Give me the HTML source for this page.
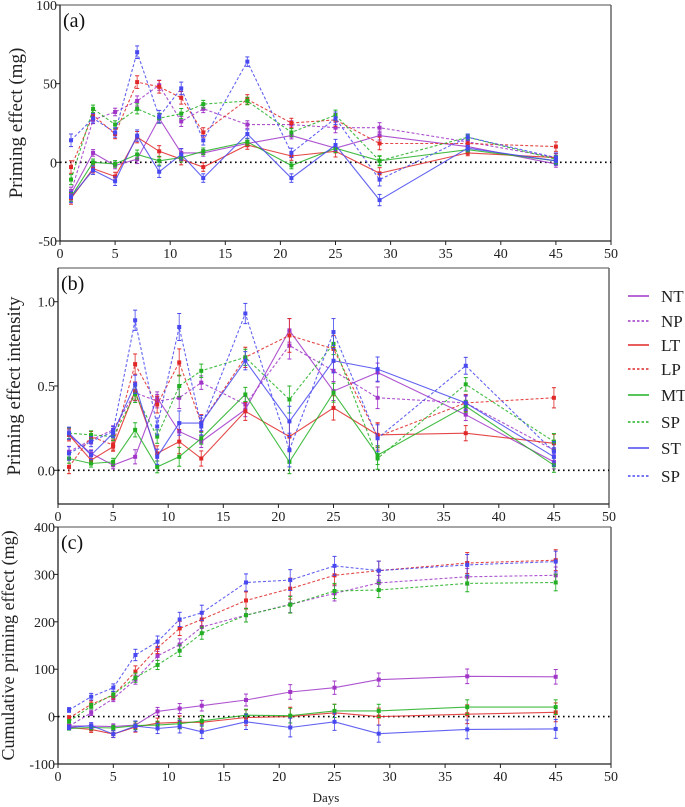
<!DOCTYPE html>
<html><head><meta charset="utf-8"><style>
body{margin:0;background:#fff}
svg{display:block}
svg text{font-family:"Liberation Serif","DejaVu Serif",serif}
</style></head><body>
<svg id="c" width="685" height="807" viewBox="0 0 685 807" font-family="Liberation Serif, serif" xmlns="http://www.w3.org/2000/svg"></svg>
<script>
const days=[1,3,5,7,9,11,13,17,21,25,29,37,45];
const seriesNames=["NT","NP","LT","LP","MT","SP","ST","SP"];
const colors=["#a035c8","#a035c8","#e02828","#e02828","#22b022","#22b022","#4848f0","#4848f0"];
const dashed=[false,true,false,true,false,true,false,true];
// panel a: priming effect (mg)
const aNT=[-20,6,-2,2,28,6,6,12,17,9,17,10,-1];
const aNP=[-19,27,32,39,49,26,34,24,24,22,22,13,3];
const aLT=[-23,-4,-9,16,7,2,-3,11,4,7,-7,6,3];
const aLP=[-3,30,18,51,48,41,19,40,25,27,12,12,10];
const aMT=[-22,0,-1,5,1,3,7,13,-2,9,1,8,1];
const aSPg=[-11,34,24,34,28,31,37,39,19,30,1,16,2];
const aST=[-22,-5,-12,17,-6,5,-10,18,-10,11,-24,9,1];
const aSPb=[14,28,19,70,29,47,14,64,6,28,-11,16,3];
const aErr=[4,3,3,4,4,4,3,3,3,4,4,2,3];
// panel b: intensity
const bNT=[0.21,0.10,0.03,0.08,0.43,0.23,0.17,0.36,0.83,0.47,0.58,0.33,0.05];
const bNP=[0.11,0.18,0.24,0.46,0.41,0.43,0.52,0.39,0.74,0.59,0.43,0.40,0.12];
const bLT=[0.21,0.06,0.14,0.47,0.10,0.17,0.07,0.35,0.20,0.37,0.21,0.22,0.16];
const bLP=[0.02,0.20,0.15,0.63,0.39,0.64,0.28,0.67,0.80,0.72,0.20,0.40,0.43];
const bMT=[0.07,0.04,0.05,0.24,0.02,0.08,0.19,0.45,0.05,0.46,0.09,0.38,0.03];
const bSPg=[0.22,0.21,0.20,0.45,0.20,0.50,0.59,0.67,0.42,0.75,0.07,0.51,0.17];
const bST=[0.22,0.09,0.22,0.51,0.08,0.28,0.28,0.65,0.29,0.65,0.60,0.40,0.08];
const bSPb=[0.10,0.17,0.23,0.89,0.26,0.85,0.26,0.93,0.12,0.82,0.19,0.62,0.11];
const bErr=[0.04,0.03,0.03,0.06,0.05,0.08,0.05,0.06,0.1,0.08,0.08,0.05,0.06];
// panel c: cumulative (mg)
const cNT=[-20,-20,-21,-18,11,17,23,35,52,61,78,85,84];
const cNP=[-20,8,38,78,128,152,189,214,237,260,282,295,298];
const cLT=[-23,-27,-37,-22,-14,-12,-12,-2,0,8,0,5,9];
const cLP=[-3,26,45,95,145,186,205,245,270,298,308,324,330];
const cMT=[-25,-23,-24,-19,-18,-15,-9,3,2,12,12,20,20];
const cSPg=[-10,22,47,82,109,139,176,214,236,265,267,281,283];
const cST=[-23,-19,-37,-20,-25,-21,-32,-11,-23,-11,-36,-27,-26];
const cSPb=[14,42,61,130,158,205,219,283,288,318,308,320,327];
const cErr=[5,7,8,12,12,15,16,18,22,20,20,22,22];
const xTicks=[0,5,10,15,20,25,30,35,40,45,50];

const NS="http://www.w3.org/2000/svg";
const svg=document.getElementById('c');
const FF='Liberation Serif, DejaVu Serif, serif';
function el(tag,attrs,parent){const e=document.createElementNS(NS,tag);for(const k in attrs)e.setAttribute(k,attrs[k]);if(tag==='text')e.setAttribute('font-family',FF);(parent||svg).appendChild(e);return e;}

function panel(cfg){
  const g=el('g',{});
  
  
  const X=v=>cfg.x0+(v/50)*(cfg.x1-cfg.x0);
  const Y=v=>cfg.yb+(v-cfg.ymin)/(cfg.ymax-cfg.ymin)*(cfg.yt-cfg.yb);
  el('line',{x1:cfg.x0,y1:cfg.yt,x2:cfg.x1,y2:cfg.yt,stroke:'#888','stroke-width':1.5},g);
  el('line',{x1:cfg.x1,y1:cfg.yt,x2:cfg.x1,y2:cfg.yb,stroke:'#666','stroke-width':1.5},g);
  el('line',{x1:cfg.x0,y1:cfg.yb,x2:cfg.x1,y2:cfg.yb,stroke:'#222','stroke-width':1.3},g);
  el('line',{x1:cfg.x0,y1:cfg.yt,x2:cfg.x0,y2:cfg.yb,stroke:'#222','stroke-width':1.3},g);
  xTicks.forEach(t=>{
    el('line',{x1:X(t),y1:cfg.yb,x2:X(t),y2:cfg.yb+4,stroke:'#222'},g);
    const tx=el('text',{x:X(t),y:cfg.yb+17,'text-anchor':'middle','font-size':14,fill:'#222'},g);
    tx.textContent=t;
    
    
  });
  cfg.yTicks.forEach((t,i)=>{
    el('line',{x1:cfg.x0-4,y1:Y(t),x2:cfg.x0,y2:Y(t),stroke:'#222'},g);
    const tx=el('text',{x:cfg.x0-3,y:Y(t)+5,'text-anchor':'end','font-size':14,fill:'#222'},g);
    tx.textContent=cfg.yLabels[i];
    
    
  });
  el('line',{x1:cfg.x0,y1:Y(0),x2:cfg.x1,y2:Y(0),stroke:'#000','stroke-width':1.6,'stroke-dasharray':'1.6 3.4'},g);
  const yl=el('text',{x:0,y:0,transform:`translate(${cfg.ylx},${(cfg.yt+cfg.yb)/2}) rotate(-90)`,'text-anchor':'middle','font-size':cfg.ylfs,fill:'#222'},g);
  yl.textContent=cfg.ylabel;
  
  
  const lt=el('text',{x:cfg.x0+3,y:cfg.yt+22,'font-size':20,fill:'#111'},g);
  lt.textContent=cfg.letter;
  
  
  cfg.series.forEach((s,si)=>{
    const sg=el('g',{},g);
    
    
    const pts=s.map((v,i)=>X(days[i]).toFixed(1)+','+Y(v).toFixed(1)).join(' ');
    const pl=el('polyline',{points:pts,fill:'none',stroke:colors[si],'stroke-width':1.1,'stroke-opacity':0.85,'stroke-dasharray':dashed[si]?'3 2':'none'},sg);
    
    
    s.forEach((v,i)=>{
      const e=cfg.err[i]*(0.7+0.1*(si%4));
      const x=X(days[i]);
      el('line',{x1:x,y1:Y(v-e),x2:x,y2:Y(v+e),stroke:colors[si],'stroke-width':1,'stroke-opacity':0.8},sg);
      el('line',{x1:x-2,y1:Y(v-e),x2:x+2,y2:Y(v-e),stroke:colors[si],'stroke-width':1},sg);
      el('line',{x1:x-2,y1:Y(v+e),x2:x+2,y2:Y(v+e),stroke:colors[si],'stroke-width':1},sg);
      const p=el('rect',{x:x-2,y:Y(v)-2,width:4,height:4,fill:colors[si]},sg);
      
      
    });
  });
}
panel({name:'panel-a',letter:'(a)',x0:60,x1:611,yt:5,yb:241,ymin:-50,ymax:100,yTicks:[-50,0,50,100],yLabels:['-50','0','50','100'],ylabel:'Priming effect (mg)',ylx:22,ylfs:19,err:aErr,series:[aNT,aNP,aLT,aLP,aMT,aSPg,aST,aSPb]});
panel({name:'panel-b',letter:'(b)',x0:58,x1:609,yt:268,yb:504,ymin:-0.2,ymax:1.2,yTicks:[0,0.5,1],yLabels:['0.0','0.5','1.0'],ylabel:'Priming effect intensity',ylx:20,ylfs:19,err:bErr,series:[bNT,bNP,bLT,bLP,bMT,bSPg,bST,bSPb]});
panel({name:'panel-c',letter:'(c)',x0:58,x1:611,yt:527,yb:764,ymin:-100,ymax:400,yTicks:[-100,0,100,200,300,400],yLabels:['-100','0','100','200','300','400'],ylabel:'Cumulative priming effect (mg)',ylx:14,ylfs:18,err:cErr,series:[cNT,cNP,cLT,cLP,cMT,cSPg,cST,cSPb]});
const dx=el('text',{x:326,y:802,'text-anchor':'middle','font-size':13,fill:'#222'});
dx.textContent='Days';


const legY=[296,321,345,369,395,422,448,476];
seriesNames.forEach((n,i)=>{
  const lg=el('g',{});
  
  
  el('line',{x1:628,y1:legY[i],x2:649,y2:legY[i],stroke:colors[i],'stroke-width':1.5,'stroke-dasharray':dashed[i]?'2.5 2':'none'},lg);
  const t=el('text',{x:661,y:legY[i]+6,'font-size':17,fill:'#222'},lg);
  t.textContent=n;
});
</script>
</body></html>
